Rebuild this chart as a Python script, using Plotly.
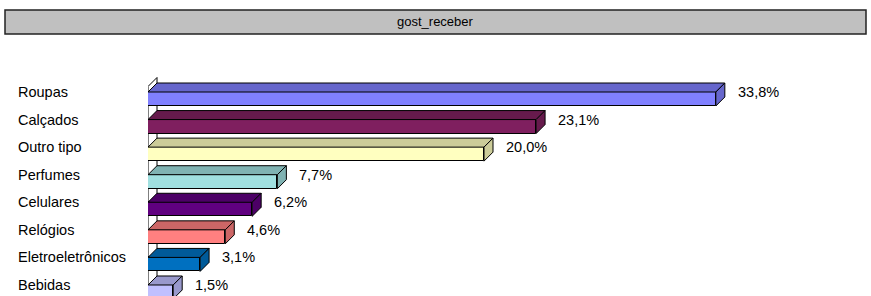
import plotly.graph_objects as go

categories = ["Roupas", "Calçados", "Outro tipo", "Perfumes", "Celulares",
              "Relógios", "Eletroeletrônicos", "Bebidas"]
values = [33.8, 23.1, 20.0, 7.7, 6.2, 4.6, 3.1, 1.5]
value_labels = ["33,8%", "23,1%", "20,0%", "7,7%", "6,2%", "4,6%", "3,1%", "1,5%"]
front_colors = ["#8080FF", "#7F1F5F", "#FFFFC0", "#A0E0E0", "#600080",
                "#FF8080", "#0070C0", "#C0C0FF"]
side_colors = ["#6666CC", "#661A4C", "#CCCC99", "#80B3B3", "#4C0066",
               "#CC6666", "#005A99", "#9999CC"]
title = "gost_receber"

W, H = 871, 296
L, R, T, B = 148, 0, 70, 0
px_per_unit_x = 16.8
px_per_cat = 27.57
first_cat_px = 92
plot_w = W - L - R
xmax = plot_w / px_per_unit_x
ytop = (T - first_cat_px) / px_per_cat
ybot = (H - B - first_cat_px) / px_per_cat

bar_h = 14 / px_per_cat
dx = 9 / px_per_unit_x
dy = 9 / px_per_cat

pos = list(range(len(categories)))
FONT = "Arial, Liberation Sans, sans-serif"
LABEL_SIZE = 14.5

fig = go.Figure()
fig.add_trace(go.Bar(
    x=values, y=[p + bar_h / 2 for p in pos], orientation="h",
    width=bar_h, base=0,
    marker=dict(color=front_colors, line=dict(color="black", width=1)),
    hoverinfo="skip", showlegend=False,
))

shapes = []
wall_top = -0.2
shapes.append(dict(type="path", xref="x", yref="y", layer="below",
                   path=f"M 0,{ybot+1} L 0,{wall_top} L {dx},{wall_top-dy} L {dx},{ybot+1} Z",
                   fillcolor="white", line=dict(color="black", width=1)))
for p, v, c in zip(pos, values, side_colors):
    top = p
    bot = p + bar_h
    shapes.append(dict(type="path", xref="x", yref="y", layer="above",
                       path=f"M 0,{top} L {dx},{top-dy} L {v+dx},{top-dy} L {v},{top} Z",
                       fillcolor=c, line=dict(color="black", width=1)))
    shapes.append(dict(type="path", xref="x", yref="y", layer="above",
                       path=f"M {v},{top} L {v+dx},{top-dy} L {v+dx},{bot-dy} L {v},{bot} Z",
                       fillcolor=c, line=dict(color="black", width=1)))

def px2paperx(px):
    return (px - L) / plot_w
def px2papery(py):
    return (H - B - py) / (H - T - B)

shapes.append(dict(type="rect", xref="paper", yref="paper", layer="above",
                   x0=px2paperx(5), x1=px2paperx(866), y0=px2papery(34), y1=px2papery(10),
                   fillcolor="#C0C0C0", line=dict(color="#222222", width=1.5)))

annotations = [dict(text=title, xref="paper", yref="paper",
                    x=px2paperx(435.5), y=px2papery(22), showarrow=False,
                    xanchor="center", yanchor="middle",
                    font=dict(family=FONT, size=13, color="black"))]
for p, cat, v, lab in zip(pos, categories, values, value_labels):
    annotations.append(dict(text=cat, xref="paper", yref="y", x=px2paperx(16), y=p,
                            showarrow=False, xanchor="left", yanchor="middle",
                            font=dict(family=FONT, size=LABEL_SIZE, color="black")))
    annotations.append(dict(text=lab, xref="x", yref="y", x=v + 20 / px_per_unit_x, y=p,
                            showarrow=False, xanchor="left", yanchor="middle",
                            font=dict(family=FONT, size=LABEL_SIZE, color="black")))

fig.update_layout(
    width=W, height=H, margin=dict(l=L, r=R, t=T, b=B, pad=0),
    paper_bgcolor="white", plot_bgcolor="white",
    xaxis=dict(range=[0, xmax], visible=False, fixedrange=True),
    yaxis=dict(range=[ybot, ytop], visible=False, fixedrange=True),
    shapes=shapes, annotations=annotations, bargap=0,
)
fig.write_html("out.html", config={"displayModeBar": False},
               post_script="document.body.style.margin='0px';")
